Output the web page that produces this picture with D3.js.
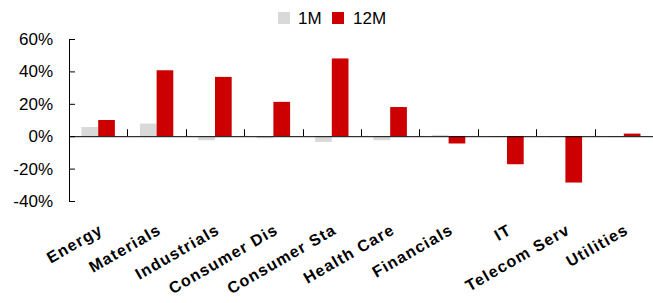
<!DOCTYPE html>
<html>
<head>
<meta charset="utf-8">
<script src="https://cdn.jsdelivr.net/npm/d3@7"></script>
<style>
  body { margin: 0; background: #fff; }
  text { font-family: "Liberation Sans", Arial, sans-serif; fill: #000; }
</style>
</head>
<body>
<div id="chart"></div>
<script>
const categories = ["Energy", "Materials", "Industrials", "Consumer Dis", "Consumer Sta",
                    "Health Care", "Financials", "IT", "Telecom Serv", "Utilities"];
const series = ["1M", "12M"];
const oneMonth = [5.7, 7.8, -2.5, -1.3, -3.5, -2.5, 0.8, -0.5, -0.5, -0.5];
const twelveMonth = [10.0, 40.7, 36.6, 21.2, 48.0, 18.0, -4.5, -17.3, -28.6, 1.6];
const yTicks = [-40, -20, 0, 20, 40, 60];
const colors = {"1M": "#d9d9d9", "12M": "#cc0000"};

const svgWidth = 653, svgHeight = 303;
const svg = d3.select("#chart").append("svg")
    .attr("width", svgWidth).attr("height", svgHeight);

const margin = {top: 39, right: 0, bottom: 102, left: 69};

const x = d3.scaleBand().domain(categories)
    .range([margin.left, svgWidth - margin.right]);
const x1 = d3.scaleBand().domain(series)
    .range([0, x.bandwidth()]).paddingOuter(0.75);
const y = d3.scaleLinear().domain([-40, 60])
    .range([svgHeight - margin.bottom, margin.top]);

const rows = categories.map((c, i) => ({cat: c, values: [
    {key: "1M", value: oneMonth[i]},
    {key: "12M", value: twelveMonth[i]}
]}));

// bars
svg.append("g").selectAll("g")
    .data(rows)
  .join("g")
    .attr("transform", d => "translate(" + x(d.cat) + ",0)")
  .selectAll("rect")
    .data(d => d.values)
  .join("rect")
    .attr("x", d => x1(d.key))
    .attr("width", x1.bandwidth())
    .attr("y", d => y(Math.max(0, d.value)))
    .attr("height", d => Math.abs(y(d.value) - y(0)))
    .attr("fill", d => colors[d.key]);

// y axis, ticks inside
const yAxis = svg.append("g")
    .attr("transform", "translate(" + margin.left + ",0)")
    .call(d3.axisRight(y).tickValues(yTicks).tickSize(6).tickFormat(""));
yAxis.select(".domain").attr("d", "M0.5," + y(60) + "V" + y(-40)).attr("stroke", "#000");
yAxis.selectAll(".tick line").attr("stroke", "#000");

svg.append("g").selectAll("text")
    .data(yTicks)
  .join("text")
    .attr("x", 53)
    .attr("y", d => y(d))
    .attr("dy", "0.35em")
    .attr("text-anchor", "end")
    .attr("font-size", 17)
    .text(d => d + "%");

// zero line with category separators
const xAxis = svg.append("g");
xAxis.append("line")
    .attr("x1", margin.left).attr("x2", svgWidth)
    .attr("y1", y(0) + 0.5).attr("y2", y(0) + 0.5)
    .attr("stroke", "#000");
xAxis.selectAll(".sep")
    .data(categories.slice(1))
  .join("line")
    .attr("class", "sep")
    .attr("x1", d => Math.round(x(d)) + 0.5).attr("x2", d => Math.round(x(d)) + 0.5)
    .attr("y1", y(0)).attr("y2", y(0) - 7)
    .attr("stroke", "#000");

// category labels
svg.append("g").selectAll("text")
    .data(categories)
  .join("text")
    .attr("transform", d => "translate(" + (x(d) + x.bandwidth() / 2) + ",223) rotate(-30)")
    .attr("dy", "0.72em")
    .attr("text-anchor", "end")
    .attr("font-size", 16)
    .attr("font-weight", "bold")
    .attr("letter-spacing", 1.2)
    .attr("fill", "#1a1a1a")
    .text(d => d);

// legend
const legend = svg.append("g").attr("transform", "translate(278,12)");
const legendPos = [{key: "1M", x: 0, tx: 20}, {key: "12M", x: 54, tx: 75}];
legend.selectAll("rect")
    .data(legendPos)
  .join("rect")
    .attr("x", d => d.x).attr("y", 0)
    .attr("width", 12).attr("height", 12)
    .attr("fill", d => colors[d.key]);
legend.selectAll("text")
    .data(legendPos)
  .join("text")
    .attr("x", d => d.tx).attr("y", 12)
    .attr("font-size", 17)
    .text(d => d.key);
</script>
</body>
</html>
